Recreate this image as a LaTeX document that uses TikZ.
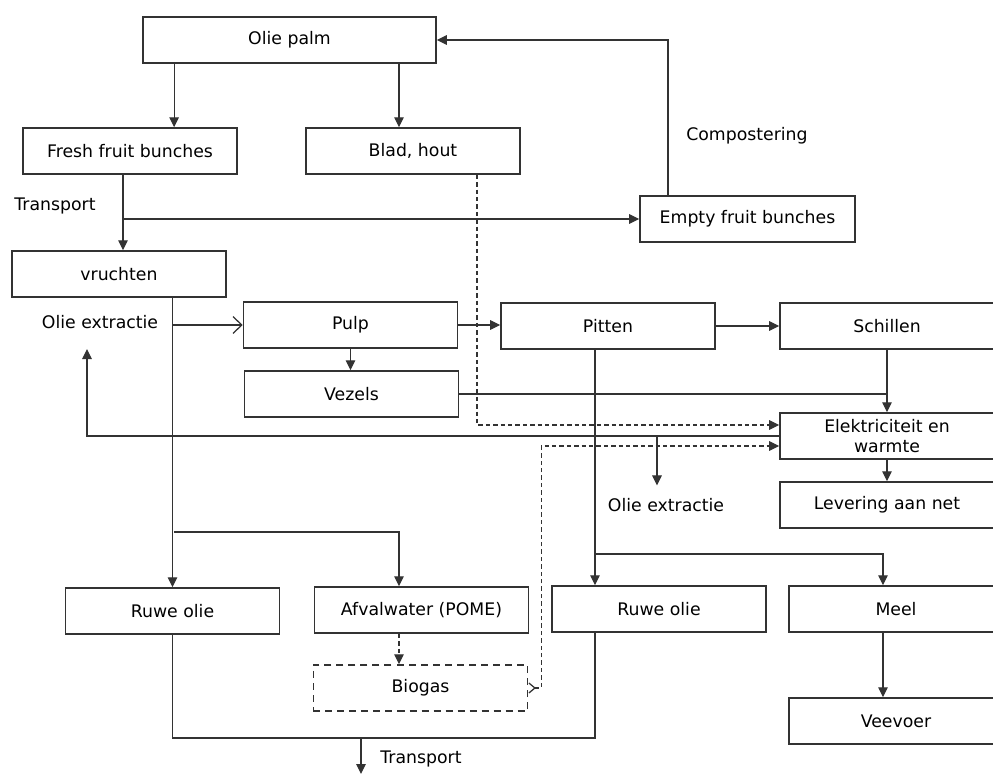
\documentclass[tikz,border=0pt]{standalone}
\usepackage{fontspec}
\setmainfont{DejaVu Sans}
\usetikzlibrary{arrows.meta}
\begin{document}
\begin{tikzpicture}[x=0.025cm,y=-0.025cm,
		font=\fontsize{12.3}{14.8}\selectfont,
		line/.style={draw=black!80, line width=0.9pt},
		box/.style={line, line width=1.05pt, minimum width=5.35cm, minimum height=1.15cm, inner sep=2pt, align=center},
		dashbox/.style={box, dash pattern=on 1.75mm off 1.25mm},
		arr/.style={line, -{Triangle[length=2.5mm,width=2.4mm]}},
		openarr/.style={line, -{Straight Barb[length=2.2mm,width=4.2mm]}},
		dasharr/.style={arr, dash pattern=on 1.1mm off 0.75mm}]
	\useasboundingbox (0,0) rectangle (993,774);

	\node[box, minimum width=7.33cm] (palm) at (289.5,40) {Olie palm};
	\node[box] (ffb) at (130,151) {Fresh fruit bunches};
	\node[box] (blad) at (413,151) {Blad, hout};
	\node[box, minimum width=5.375cm] (efb) at (747.5,219) {Empty fruit bunches};
	\node[box] (vrucht) at (119,274) {vruchten};
	\node[box] (pulp) at (350.5,325) {Pulp};
	\node[box] (vezels) at (351.5,394) {Vezels};
	\node[box] (pitten) at (608,326) {Pitten};
	\node[box] (schil) at (887,326) {Schillen};
	\node[box] (elek) at (887,436) {Elektriciteit en\\warmte};
	\node[box] (lever) at (887,505) {Levering aan net};
	\node[box] (ruwe1) at (172.5,611) {Ruwe olie};
	\node[box] (pome) at (421.5,610) {Afvalwater (POME)};
	\node[dashbox] (biogas) at (420.5,688) {Biogas};
	\node[box] (ruwe2) at (659,609) {Ruwe olie};
	\node[box] (meel) at (896,609) {Meel};
	\node[box] (veevoer) at (896,721) {Veevoer};

	\node (transp1) at (55,206) {Transport};
	\node (compost) at (747,136) {Compostering};
	\node (extr1) at (100,322) {Olie extractie};
	\node (extr2) at (666,505) {Olie extractie};
	\node (transp2) at (421,759) {Transport};

	\coordinate (j1) at (174,532);
	\coordinate (r1) at (87,349);
	\coordinate (b1) at (657,436);
	\coordinate (j3) at (361,738);
	\coordinate (out) at (361,774);
	\coordinate (j4) at (595,554);

	\draw[arr] ([xshift=0.8cm]palm.south west) -- ([xshift=0.8cm]palm.south west |- ffb.north);
	\draw[arr] ([xshift=-0.35cm]blad.north |- palm.south) -- ([xshift=-0.35cm]blad.north);
	\draw[arr] ([xshift=-1.99cm]efb.north) |- (palm.east);
	\draw[arr] ([xshift=-0.175cm]ffb.south) -- ([xshift=-0.175cm]ffb.south |- vrucht.north);
	\draw[arr] ([xshift=-0.175cm]ffb.south |- efb.west) -- (efb.west);

	\draw[arr] (ruwe1.north |- vrucht.south) -- (ruwe1.north);
	\draw[openarr] (ruwe1.north |- pulp.west) -- (pulp.west);
	\draw[arr] (j1) -| ([xshift=-0.5625cm]pome.north);
	\draw[arr] (pulp.south) -- (pulp.south |- vezels.north);
	\draw[arr] (pulp.east) -- (pulp.east -| pitten.west);
	\draw[arr] (pitten.east) -- (schil.west);
	\draw[arr] (schil.south) -- (elek.north);
	\draw[line] (vezels.east) -- (vezels.east -| schil.south);
	\draw[dasharr] ([xshift=1.6cm]blad.south) |- ([yshift=0.275cm]elek.west);
	\draw[arr] (elek.west) -| (r1);
	\draw[arr] (b1) -- ([yshift=0.2cm]b1 |- extr2.north);
	\draw[dasharr, {Straight Barb[length=1.5mm,width=2.5mm,reversed]}-{Triangle[length=2.5mm,width=2.4mm]}] (biogas.east) -- ++(13,0) |- ([yshift=-0.25cm]elek.west);
	\draw[arr] (elek.south) -- (lever.north);
	\draw[dasharr] ([xshift=-0.5625cm]pome.south) -- ([xshift=-0.5625cm]pome.south |- biogas.north);

	\draw[line] (ruwe1.south) |- (j3) -| ([xshift=-1.6cm]ruwe2.south);
	\draw[arr] (j3) -- (out);
	\draw[arr] ([xshift=-1.6cm]ruwe2.north |- pitten.south) -- ([xshift=-1.6cm]ruwe2.north);
	\draw[arr] (j4) -| ([xshift=-0.325cm]meel.north);
	\draw[arr] ([xshift=-0.325cm]meel.south) -- ([xshift=-0.325cm]meel.south |- veevoer.north);
\end{tikzpicture}
\end{document}
